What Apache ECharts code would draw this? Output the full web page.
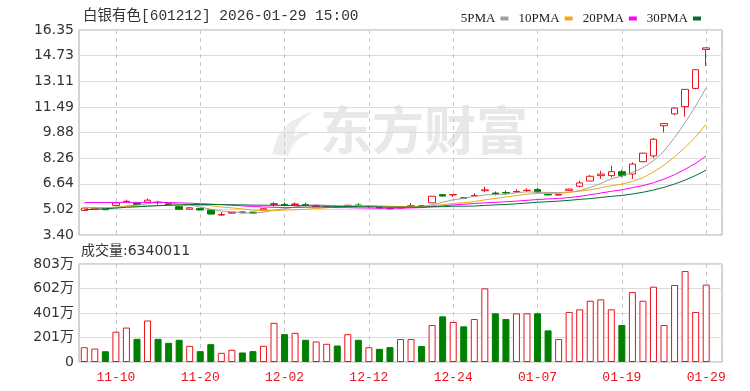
<!DOCTYPE html>
<html><head><meta charset="utf-8">
<script src="https://cdn.jsdelivr.net/npm/echarts@6/dist/echarts.min.js"></script>
<style>html,body{margin:0;padding:0;background:#fff}#c{width:750px;height:391px}</style>
</head><body><div id="c"></div>
<script>
const dates = ['11-05','11-06','11-07','11-10','11-11','11-12','11-13','11-14','11-17','11-18','11-19','11-20','11-21','11-24','11-25','11-26','11-27','11-28','12-01','12-02','12-03','12-04','12-05','12-08','12-09','12-10','12-11','12-12','12-15','12-16','12-17','12-18','12-19','12-22','12-23','12-24','12-25','12-26','12-29','12-30','12-31','01-05','01-06','01-07','01-08','01-09','01-12','01-13','01-14','01-15','01-16','01-19','01-20','01-21','01-22','01-23','01-26','01-27','01-28','01-29'];
const opens = [4.95,5.06,5.08,5.27,5.49,5.42,5.46,5.48,5.38,5.19,5.03,5.08,4.98,4.66,4.78,4.86,4.84,4.98,5.33,5.33,5.33,5.32,5.20,5.18,5.20,5.20,5.30,5.20,5.16,5.10,5.10,5.20,5.24,5.43,5.95,5.93,5.75,5.86,6.20,6.05,6.08,6.12,6.22,6.27,5.98,5.92,6.22,6.48,6.81,7.15,7.15,7.40,7.25,8.03,8.40,10.30,11.05,11.51,12.66,15.12];
const closes = [5.10,5.12,5.00,5.43,5.53,5.33,5.60,5.44,5.30,5.02,5.12,4.98,4.72,4.70,4.84,4.80,4.79,5.06,5.38,5.28,5.36,5.27,5.24,5.22,5.15,5.28,5.25,5.22,5.10,5.05,5.18,5.25,5.20,5.85,5.86,5.95,5.71,5.90,6.25,5.98,6.05,6.15,6.22,6.12,5.93,5.96,6.30,6.69,7.11,7.25,7.40,7.15,7.88,8.57,9.45,10.44,11.42,12.60,13.84,15.22];
const lows = [4.92,5.03,4.97,5.24,5.46,5.30,5.44,5.32,5.27,5.00,5.01,4.96,4.70,4.60,4.75,4.77,4.77,4.96,5.20,5.25,5.25,5.20,5.15,5.12,5.12,5.17,5.22,5.12,5.08,5.02,5.08,5.15,5.16,5.42,5.84,5.80,5.68,5.85,6.10,5.90,5.95,6.08,6.12,6.08,5.90,5.90,6.20,6.42,6.80,6.94,7.04,7.04,6.94,8.00,8.24,9.88,10.97,10.88,12.60,14.07];
const highs = [5.13,5.15,5.10,5.45,5.63,5.45,5.70,5.56,5.42,5.21,5.14,5.10,5.00,4.84,4.87,4.90,4.87,5.09,5.47,5.45,5.46,5.44,5.28,5.26,5.23,5.31,5.40,5.26,5.19,5.12,5.22,5.42,5.30,5.86,5.97,5.97,5.78,6.04,6.45,6.15,6.20,6.28,6.35,6.38,6.00,5.98,6.32,6.83,7.19,7.46,7.78,7.52,7.99,8.60,9.52,10.45,11.45,12.62,13.86,15.23];
const volumes = [1210000,1100000,880000,2480000,2820000,1900000,3400000,1900000,1570000,1820000,1320000,890000,1460000,750000,1000000,780000,890000,1330000,3210000,2280000,2390000,1820000,1680000,1490000,1350000,2280000,1820000,1210000,1080000,1220000,1880000,1880000,1310000,3030000,3740000,3280000,2920000,3520000,6030000,3990000,3520000,3990000,3990000,3990000,2590000,1880000,4100000,4310000,5020000,5130000,4310000,3030000,5730000,5020000,6170000,3030000,6310000,7450000,4100000,6340011];
const ma5 = [5.15,5.12,5.10,5.15,5.24,5.28,5.38,5.47,5.44,5.34,5.30,5.17,5.03,4.91,4.87,4.81,4.77,4.84,4.97,5.06,5.17,5.27,5.31,5.27,5.25,5.23,5.23,5.22,5.20,5.18,5.16,5.16,5.16,5.31,5.47,5.62,5.71,5.85,5.93,5.96,5.98,6.07,6.13,6.10,6.09,6.08,6.11,6.20,6.40,6.66,6.95,7.12,7.36,7.65,8.09,8.70,9.55,10.50,11.55,12.70];
const ma10 = [5.12,5.12,5.13,5.16,5.19,5.21,5.24,5.26,5.28,5.29,5.29,5.28,5.25,5.17,5.11,5.05,4.97,4.93,4.94,4.97,4.99,5.02,5.07,5.12,5.16,5.20,5.25,5.27,5.24,5.21,5.20,5.19,5.19,5.25,5.32,5.39,5.44,5.51,5.62,5.71,5.80,5.89,5.99,6.02,6.03,6.03,6.09,6.17,6.25,6.38,6.51,6.61,6.78,7.02,7.38,7.82,8.34,8.93,9.60,10.40];
const ma20 = [5.45,5.45,5.45,5.46,5.46,5.46,5.46,5.46,5.45,5.43,5.41,5.38,5.35,5.32,5.28,5.24,5.20,5.17,5.15,5.13,5.14,5.15,5.16,5.15,5.13,5.13,5.11,5.10,5.09,5.09,5.09,5.11,5.13,5.19,5.24,5.30,5.34,5.39,5.43,5.46,5.50,5.54,5.59,5.64,5.68,5.71,5.76,5.84,5.94,6.05,6.16,6.25,6.39,6.52,6.70,6.93,7.21,7.55,7.93,8.39];
const ma30 = [5.00,5.02,5.05,5.10,5.15,5.18,5.22,5.25,5.28,5.30,5.32,5.33,5.33,5.32,5.31,5.30,5.29,5.28,5.28,5.27,5.26,5.25,5.24,5.22,5.21,5.20,5.19,5.18,5.17,5.16,5.16,5.16,5.17,5.18,5.19,5.22,5.22,5.23,5.27,5.30,5.33,5.37,5.42,5.47,5.50,5.54,5.59,5.65,5.70,5.77,5.84,5.90,5.99,6.10,6.24,6.41,6.62,6.87,7.16,7.50];
const priceTickLabels = ['3.40','5.02','6.64','8.26','9.88','11.49','13.11','14.73','16.35'];
const volTickValues = [0,2007000,4014000,6021000,8028000];
const volTickLabels = ['0','201万','401万','602万','803万'];
const labelDates = ['11-10','11-20','12-02','12-12','12-24','01-07','01-19','01-29'];
const maNames = ['5PMA','10PMA','20PMA','30PMA'];
const titleText = '白银有色[601212] 2026-01-29 15:00';
const volTitle = '成交量:6340011';

const RED = '#e8141c', GREEN = '#008000';
const nearestLabel = (labels, vals, v) => {
  let best = 0;
  for (let i = 1; i < vals.length; i++) if (Math.abs(vals[i] - v) < Math.abs(vals[best] - v)) best = i;
  return labels[best];
};
const priceVals = priceTickLabels.map(parseFloat);
const showDate = (idx, val) => labelDates.indexOf(val) >= 0;
const sign = i => closes[i] > opens[i] ? 1 : closes[i] < opens[i] ? -1 : (i > 0 && closes[i - 1] <= closes[i] ? 1 : -1);

const kData = dates.map((d, i) => [opens[i], closes[i], lows[i], highs[i]]);
const volData = volumes.map((v, i) => ({
  value: v,
  itemStyle: sign(i) > 0 ? { color: '#fff', borderColor: RED, borderWidth: 1 } : { color: GREEN, borderColor: GREEN, borderWidth: 1 }
}));

const chart = echarts.init(document.getElementById('c'), null, { renderer: 'canvas' });
const baseX = {
  type: 'category', data: dates, boundaryGap: true, max: dates.length,
  axisLine: { show: false }, axisTick: { show: false },
  splitLine: { show: true, interval: showDate, alignWithLabel: true, lineStyle: { color: '#c8c8c8', type: [4, 4] } }
};
const maColors = ['#a0a0a0', '#f0a818', '#ff00ff', '#006f35'];
const maData = [ma5, ma10, ma20, ma30];
chart.setOption({
  animation: false,
  backgroundColor: '#fff',
  title: { text: titleText, left: 78, top: 4, textStyle: { fontFamily: "'Liberation Mono','Noto Sans CJK SC'", fontSize: 14.5, fontWeight: 'normal', color: '#333' } },
  legend: {
    data: maNames, right: 44, top: 7, align: 'right', icon: 'rect', itemWidth: 8, itemHeight: 4, itemGap: 10,
    textStyle: { fontFamily: "'Liberation Serif'", fontSize: 13, color: '#222', padding: [0, 0, 0, 0] }
  },
  graphic: [
    { type: 'polygon', left: 272, top: 110, z: 0, silent: true,
      shape: { points: [[2,44],[8,26],[20,12],[44,0],[32,10],[26,18],[24,26],[32,22],[42,22],[30,28],[22,36],[18,46]] },
      style: { fill: '#ececec' } },
    { type: 'text', left: 320, top: 104, z: 0, silent: true, style: { text: '东方财富', font: 'bold 52px "Noto Sans CJK SC"', fill: '#e8e8e8' } },
    { type: 'text', left: 81, top: 244, silent: true, style: { text: volTitle, font: '14px "DejaVu Sans","Noto Sans CJK SC"', fill: '#333' } }
  ],
  grid: [
    { left: 79, top: 30, width: 643, height: 205, show: true, borderColor: '#a8a8a8', borderWidth: 1, backgroundColor: 'transparent' },
    { left: 79, top: 264, width: 643, height: 98, show: true, borderColor: '#a8a8a8', borderWidth: 1, backgroundColor: 'transparent' }
  ],
  xAxis: [
    Object.assign({}, baseX, { gridIndex: 0, axisLabel: { show: false } }),
    Object.assign({}, baseX, { gridIndex: 1, axisLabel: { show: true, interval: showDate, color: RED, fontFamily: "'Liberation Mono'", fontSize: 13, margin: 9 } })
  ],
  yAxis: [
    { gridIndex: 0, type: 'value', min: 3.40, max: 16.35, interval: 1.61875,
      axisLine: { show: false }, axisTick: { show: false },
      axisLabel: { formatter: v => nearestLabel(priceTickLabels, priceVals, v), color: '#333', fontFamily: "'DejaVu Sans'", fontSize: 14, margin: 5 },
      splitLine: { lineStyle: { color: '#dcdcdc' } } },
    { gridIndex: 1, type: 'value', min: 0, max: 8028000, interval: 2007000,
      axisLine: { show: false }, axisTick: { show: false },
      axisLabel: { formatter: v => nearestLabel(volTickLabels, volTickValues, v), color: '#333', fontFamily: "'DejaVu Sans','Noto Sans CJK SC'", fontSize: 14, margin: 5 },
      splitLine: { lineStyle: { color: '#dcdcdc' } } }
  ],
  series: [
    { name: 'K', type: 'candlestick', xAxisIndex: 0, yAxisIndex: 0, data: kData, barWidth: 7,
      itemStyle: { color: '#fff', color0: GREEN, borderColor: RED, borderColor0: GREEN, borderWidth: 1 } },
    ...maNames.map((n, k) => ({ name: n, type: 'line', xAxisIndex: 0, yAxisIndex: 0, data: maData[k], symbol: 'none', showSymbol: false,
      color: maColors[k], lineStyle: { width: 1, color: maColors[k] } })),
    { name: 'VOL', type: 'bar', xAxisIndex: 1, yAxisIndex: 1, data: volData, barWidth: 7 }
  ]
});
</script></body></html>
